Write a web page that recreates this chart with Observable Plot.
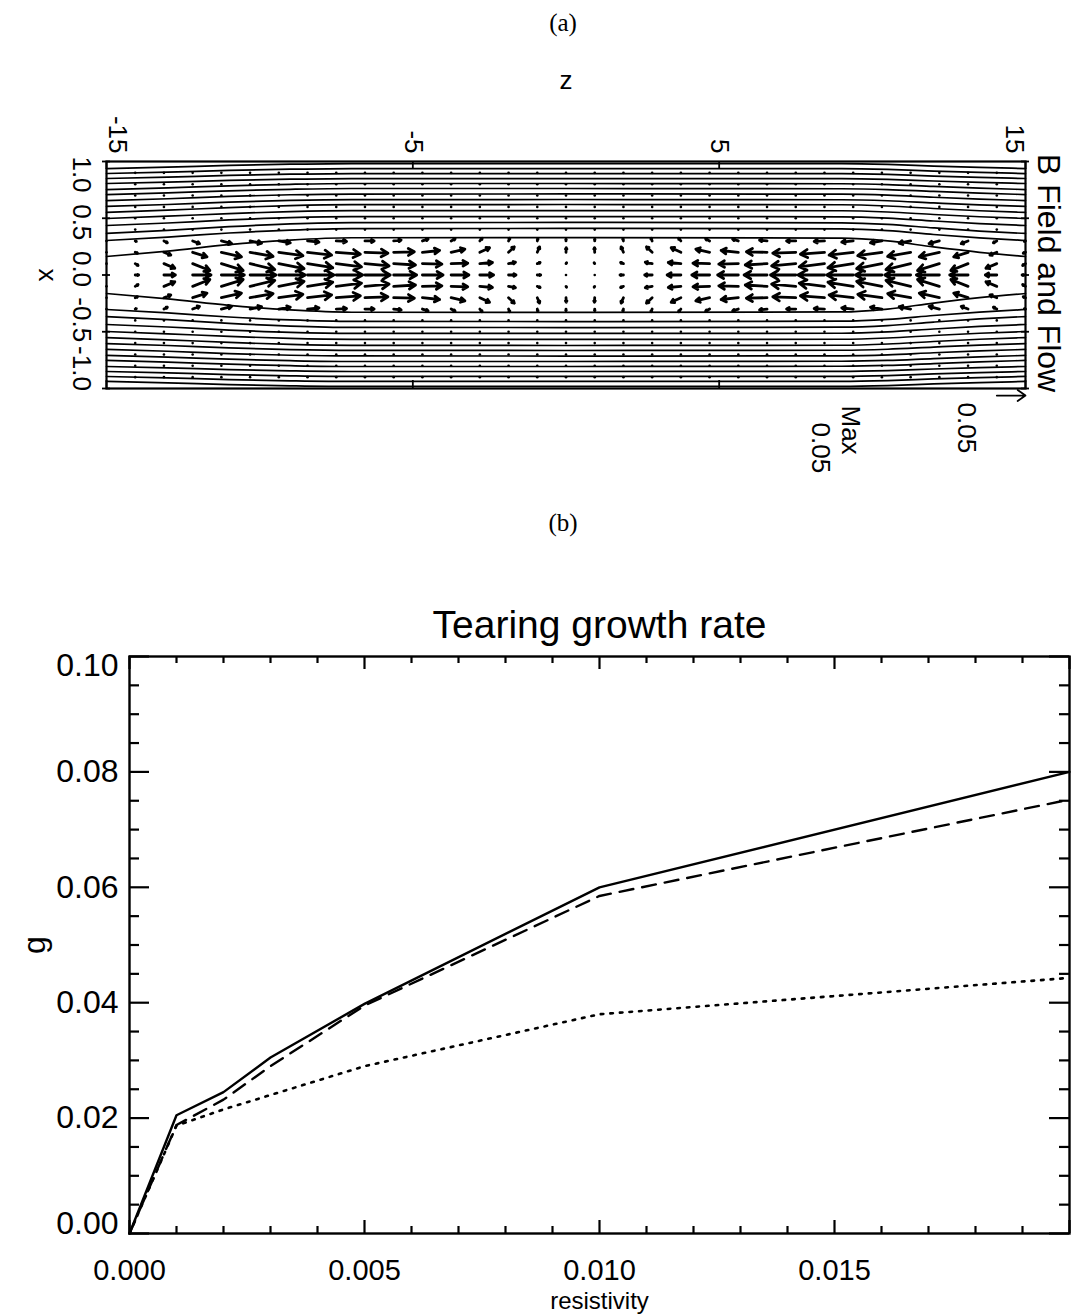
<!DOCTYPE html>
<html>
<head>
<meta charset="utf-8">
<script src="https://cdn.jsdelivr.net/npm/d3@7"></script>
<script src="https://cdn.jsdelivr.net/npm/@observablehq/plot@0.6"></script>
<style>
  body { margin: 0; background: #fff; }
  #fig { position: relative; width: 1071px; height: 1315px; background: #fff; overflow: hidden;
         font-family: "Liberation Sans", Arial, Helvetica, sans-serif; }
  .tag { position: absolute; z-index: 2; transform: translateX(-50%); font-family: "Liberation Serif", "DejaVu Serif", serif;
         font-size: 25px; line-height: 1; color: #000; }
  .panel { position: absolute; left: 0; z-index: 1; }
</style>
</head>
<body>
<div id="fig">
  <div class="panel" id="panelA" style="top:0px;"></div>
  <div class="panel" id="panelB" style="top:560px;"></div>
  <div class="tag" style="left:563px; top:10px;">(a)</div>
  <div class="tag" style="left:563px; top:510px;">(b)</div>
</div>
<script>
// ===================== Panel (a): B field lines and flow =====================
const zTicks = [-15, -5, 5, 15];
const xTicks = [1, 0.5, 0, -0.5, -1];
const xTickText = ["1.0", "0.5", "0.0", "-0.5", "-1.0"];

// z stations at which each field line is sampled
const lineStations = [-15, -13, -11, -9, -7, 0, 9, 10.5, 12, 13.5, 15];
// upper-half field lines (x at each station); the lower half is the mirror image
const upperFieldLines = [
  [0.938, 0.950, 0.965, 0.976, 0.982, 0.982, 0.981, 0.974, 0.960, 0.948, 0.938],
  [0.894, 0.906, 0.921, 0.932, 0.938, 0.938, 0.937, 0.930, 0.916, 0.904, 0.894],
  [0.850, 0.862, 0.877, 0.888, 0.894, 0.894, 0.893, 0.886, 0.872, 0.860, 0.850],
  [0.806, 0.818, 0.833, 0.844, 0.850, 0.850, 0.849, 0.842, 0.828, 0.816, 0.806],
  [0.753, 0.768, 0.786, 0.799, 0.806, 0.806, 0.804, 0.797, 0.780, 0.765, 0.753],
  [0.709, 0.724, 0.742, 0.755, 0.762, 0.762, 0.760, 0.753, 0.736, 0.721, 0.709],
  [0.656, 0.672, 0.692, 0.707, 0.713, 0.714, 0.712, 0.704, 0.685, 0.669, 0.656],
  [0.604, 0.621, 0.642, 0.657, 0.664, 0.665, 0.663, 0.654, 0.635, 0.617, 0.604],
  [0.551, 0.571, 0.594, 0.612, 0.620, 0.621, 0.619, 0.608, 0.586, 0.566, 0.551],
  [0.498, 0.518, 0.541, 0.559, 0.567, 0.568, 0.566, 0.555, 0.533, 0.513, 0.498],
  [0.436, 0.458, 0.485, 0.505, 0.514, 0.515, 0.513, 0.501, 0.476, 0.453, 0.436],
  [0.366, 0.393, 0.426, 0.450, 0.462, 0.463, 0.460, 0.446, 0.415, 0.387, 0.366],
  [0.304, 0.334, 0.370, 0.396, 0.409, 0.410, 0.407, 0.391, 0.357, 0.327, 0.304],
  [0.163, 0.210, 0.267, 0.308, 0.328, 0.330, 0.325, 0.300, 0.247, 0.200, 0.163]
];

// flow grid: columns in z, rows in x (upper rows; lower rows mirror them)
const flowCols = [-15, -14.0625, -13.125, -12.1875, -11.25, -10.3125, -9.375, -8.4375, -7.5,
  -6.5625, -5.625, -4.6875, -3.75, -2.8125, -1.875, -0.9375, 0, 0.9375, 1.875, 2.8125, 3.75,
  4.6875, 5.625, 6.5625, 7.5, 8.4375, 9.375, 10.3125, 11.25, 12.1875, 13.125, 14.0625, 15];
const flowRows = [0.3, 0.2, 0.1, 0];
const flowVz = [
  // x = 0.3
  [0, 0.002, 0.006, 0.012, 0.018, 0.02, 0.02, 0.02, 0.018, 0.016, 0.013, 0.01, 0.007, 0.004, 0.002, 0.001, 0,
   0, -0.001, -0.002, -0.004, -0.007, -0.01, -0.013, -0.016, -0.018, -0.02, -0.02, -0.02, -0.018, -0.012, -0.006, -0.002],
  // x = 0.2
  [0, 0.004, 0.012, 0.025, 0.035, 0.04, 0.042, 0.042, 0.042, 0.04, 0.036, 0.03, 0.024, 0.017, 0.01, 0.004, 0.0005,
   -0.0005, -0.004, -0.01, -0.017, -0.024, -0.03, -0.036, -0.04, -0.042, -0.042, -0.042, -0.04, -0.035, -0.025, -0.012, -0.004],
  // x = 0.1
  [0, 0.005, 0.019, 0.03, 0.038, 0.043, 0.044, 0.044, 0.044, 0.042, 0.038, 0.034, 0.029, 0.022, 0.012, 0.005, 0.001,
   -0.001, -0.005, -0.012, -0.022, -0.029, -0.034, -0.038, -0.042, -0.044, -0.044, -0.044, -0.043, -0.038, -0.03, -0.019, -0.005],
  // x = 0
  [0, 0.006, 0.02, 0.032, 0.04, 0.045, 0.046, 0.046, 0.046, 0.044, 0.04, 0.036, 0.031, 0.024, 0.013, 0.006, 0.001,
   -0.001, -0.006, -0.013, -0.024, -0.031, -0.036, -0.04, -0.044, -0.046, -0.046, -0.046, -0.045, -0.04, -0.032, -0.02, -0.006]
];
const flowVx = [
  // x = 0.3
  [0, -0.002, -0.008, -0.012, -0.012, -0.01, -0.008, -0.005, -0.002, 0, 0.004, 0.008, 0.01, 0.012, 0.012, 0.01, 0.008,
   0.008, 0.01, 0.012, 0.012, 0.01, 0.008, 0.004, 0, -0.002, -0.005, -0.008, -0.01, -0.012, -0.012, -0.008, -0.002],
  // x = 0.2
  [0, -0.004, -0.012, -0.02, -0.02, -0.018, -0.015, -0.012, -0.008, -0.004, 0.002, 0.008, 0.014, 0.02, 0.024, 0.024, 0.02,
   0.02, 0.024, 0.024, 0.02, 0.014, 0.008, 0.002, -0.004, -0.008, -0.012, -0.015, -0.018, -0.02, -0.02, -0.012, -0.004],
  // x = 0.1
  [0, -0.008, -0.02, -0.03, -0.03, -0.026, -0.022, -0.018, -0.014, -0.01, -0.006, -0.002, 0.002, 0.005, 0.006, 0.005, 0.004,
   0.004, 0.005, 0.006, 0.005, 0.002, -0.002, -0.006, -0.01, -0.014, -0.018, -0.022, -0.026, -0.03, -0.03, -0.02, -0.008],
  // x = 0
  new Array(33).fill(0)
];
// weak flow in the outer region, drawn as points
const outerRows = [0.9, 0.8, 0.7, 0.6, 0.5, 0.4, -0.4, -0.5, -0.6, -0.7, -0.8, -0.9];
const flowMax = 0.05;               // reference vector magnitude
const legendVector = {z: 14.0625, x: -1.062, vz: 0.05, vx: 0};

// ---- derived tables ----
const fieldLinePoints = [];
upperFieldLines.forEach((xs, i) => {
  for (const s of [1, -1]) {
    lineStations.forEach((z, j) => fieldLinePoints.push({id: `${i}${s}`, z, x: s * xs[j]}));
  }
});
const dz = flowCols[1] - flowCols[0];
const dx = 0.1;
const toArrow = (z, x, vz, vx) => ({z, x, z2: z + (vz / flowMax) * dz, x2: x + (vx / flowMax) * dx});
const flowArrows = [], flowDots = [];
flowRows.forEach((x, r) => {
  flowCols.forEach((z, k) => {
    const vz = flowVz[r][k], vx = flowVx[r][k];
    const mirror = x === 0 ? [1] : [1, -1];
    for (const s of mirror) {
      if (Math.hypot(vz, vx) < 0.0015) flowDots.push({z, x: s * x});
      else flowArrows.push(toArrow(z, s * x, vz, s * vx));
    }
  });
});
outerRows.forEach(x => flowCols.slice(1, -1).forEach(z => flowDots.push({z, x})));
const legendArrow = [toArrow(legendVector.z, legendVector.x, legendVector.vz, legendVector.vx)];

const A = {w: 1071, h: 500, mt: 161, mb: 112, ml: 106, mr: 46};
const aInnerW = A.w - A.ml - A.mr, aInnerH = A.h - A.mt - A.mb;
const xLabelShift = [13, 4, -6, -12, -20];
const txt = {lineAnchor: "middle"};

const panelA = Plot.plot({
  width: A.w, height: A.h,
  marginTop: A.mt, marginBottom: A.mb, marginLeft: A.ml, marginRight: A.mr,
  x: {domain: [-15, 15], axis: null},
  y: {domain: [-1, 1], axis: null},
  style: {fontFamily: "Liberation Sans, Arial, sans-serif", fontSize: "26px", background: "transparent", color: "black", overflow: "visible"},
  marks: [
    Plot.line(fieldLinePoints, {x: "z", y: "x", z: "id", curve: "monotone-x", stroke: "black", strokeWidth: 1.7}),
    Plot.arrow(flowArrows, {x1: "z", y1: "x", x2: "z2", y2: "x2", stroke: "black", strokeWidth: 2.8, headLength: 11, headAngle: 60}),
    Plot.dot(flowDots, {x: "z", y: "x", r: 1.3, fill: "black", stroke: null}),
    Plot.frame({stroke: "black", strokeWidth: 2.2}),
    // ticks, drawn inward
    Plot.tickX(zTicks, {x: d => d, insetBottom: aInnerH - 8, strokeWidth: 1.8}),
    Plot.tickX(zTicks, {x: d => d, insetTop: aInnerH - 8, strokeWidth: 1.8}),
    Plot.tickY(xTicks, {y: d => d, insetRight: aInnerW - 8, dx: -4, strokeWidth: 1.8}),
    Plot.tickY(xTicks, {y: d => d, insetLeft: aInnerW - 8, dx: 4, strokeWidth: 1.8}),
    // z tick labels (rotated)
    Plot.text(zTicks.filter(d => d !== -15 && d !== 15), {...txt, x: d => d, text: d => String(d), frameAnchor: "top", rotate: 90, textAnchor: "end", dy: -8}),
    Plot.text([zTicks[0]], {...txt, x: d => d, text: d => String(d), frameAnchor: "top", rotate: 90, textAnchor: "end", dy: -8, dx: 11}),
    Plot.text([zTicks[zTicks.length - 1]], {...txt, x: d => d, text: d => String(d), frameAnchor: "top", rotate: 90, textAnchor: "end", dy: -8, dx: -11}),
    // x tick labels (rotated)
    ...xTicks.map((v, i) => Plot.text([v], {...txt, y: d => d, text: () => xTickText[i], frameAnchor: "left", textAnchor: "middle", rotate: 90, dx: -25, dy: xLabelShift[i]})),
    // axis titles
    Plot.text(["x"], {...txt, frameAnchor: "left", textAnchor: "middle", rotate: 90, dx: -59, text: d => d}),
    Plot.text(["z"], {...txt, frameAnchor: "top", dy: -81, text: d => d}),
    Plot.text(["B Field and Flow"], {...txt, frameAnchor: "right", textAnchor: "middle", rotate: 90, dx: 23, dy: -2, fontSize: 32, text: d => d}),
    // flow legend
    Plot.arrow(legendArrow, {x1: "z", y1: "x", x2: "z2", y2: "x2", stroke: "black", strokeWidth: 1.8, headLength: 12, headAngle: 70, clip: false}),
    Plot.text(["Max"], {...txt, frameAnchor: "bottom-right", rotate: 90, textAnchor: "start", dx: -175, dy: 17, text: d => d}),
    Plot.text([String(flowMax)], {...txt, frameAnchor: "bottom-right", rotate: 90, textAnchor: "start", dx: -205, dy: 34, text: d => d}),
    Plot.text([String(flowMax)], {...txt, frameAnchor: "bottom-right", rotate: 90, textAnchor: "start", dx: -59, dy: 14, text: d => d})
  ]
});
document.getElementById("panelA").append(panelA);

// ===================== Panel (b): tearing growth rate =====================
const eta = [0, 0.001, 0.002, 0.003, 0.005, 0.010, 0.020];
const growthSolid  = [0, 0.0205, 0.0245, 0.0305, 0.0398, 0.0600, 0.0800];
const growthDashed = [0, 0.0188, 0.0232, 0.0290, 0.0395, 0.0585, 0.0752];
const growthDotted = [0, 0.0187, 0.0215, 0.0240, 0.0290, 0.0380, 0.0443];
const etaMajor = [0, 0.005, 0.010, 0.015, 0.020];
const etaMinor = [0.001, 0.002, 0.003, 0.004, 0.006, 0.007, 0.008, 0.009, 0.011, 0.012, 0.013, 0.014, 0.016, 0.017, 0.018, 0.019];
const etaLabels = ["0.000", "0.005", "0.010", "0.015"];
const gammaMajor = [0, 0.02, 0.04, 0.06, 0.08, 0.10];
const gammaMinor = [0.005, 0.01, 0.015, 0.025, 0.03, 0.035, 0.045, 0.05, 0.055, 0.065, 0.07, 0.075, 0.085, 0.09, 0.095];
const gammaLabels = ["0.00", "0.02", "0.04", "0.06", "0.08", "0.10"];

const series = (ys) => eta.map((e, i) => ({eta: e, g: ys[i]}));

const B = {w: 1071, h: 755, mt: 96, mb: 82, ml: 129, mr: 2};
const bInnerW = B.w - B.ml - B.mr, bInnerH = B.h - B.mt - B.mb;

const panelB = Plot.plot({
  width: B.w, height: B.h,
  marginTop: B.mt, marginBottom: B.mb, marginLeft: B.ml, marginRight: B.mr,
  x: {domain: [0, 0.02], axis: null},
  y: {domain: [0, 0.1], axis: null},
  style: {fontFamily: "Liberation Sans, Arial, sans-serif", fontSize: "32px", background: "transparent", color: "black", overflow: "visible"},
  marks: [
    Plot.line(series(growthSolid), {x: "eta", y: "g", stroke: "black", strokeWidth: 2.4}),
    Plot.line(series(growthDashed), {x: "eta", y: "g", stroke: "black", strokeWidth: 2.4, strokeDasharray: "14,9"}),
    Plot.line(series(growthDotted), {x: "eta", y: "g", stroke: "black", strokeWidth: 2.6, strokeDasharray: "2.6,7"}),
    Plot.frame({stroke: "black", strokeWidth: 2.4}),
    // x ticks (bottom and top, inward)
    Plot.tickX(etaMajor, {x: d => d, insetTop: bInnerH - 13, strokeWidth: 2.2}),
    Plot.tickX(etaMajor, {x: d => d, insetBottom: bInnerH - 13, strokeWidth: 2.2}),
    Plot.tickX(etaMinor, {x: d => d, insetTop: bInnerH - 7, strokeWidth: 2.2}),
    Plot.tickX(etaMinor, {x: d => d, insetBottom: bInnerH - 7, strokeWidth: 2.2}),
    // y ticks (left and right, inward)
    Plot.tickY(gammaMajor, {y: d => d, insetRight: bInnerW - 20, strokeWidth: 2.2}),
    Plot.tickY(gammaMajor, {y: d => d, insetLeft: bInnerW - 20, strokeWidth: 2.2}),
    Plot.tickY(gammaMinor, {y: d => d, insetRight: bInnerW - 10, strokeWidth: 2.2}),
    Plot.tickY(gammaMinor, {y: d => d, insetLeft: bInnerW - 10, strokeWidth: 2.2}),
    // tick labels
    Plot.text(etaMajor.slice(0, etaLabels.length), {...txt, x: d => d, text: (d, i) => etaLabels[i], frameAnchor: "bottom", dy: 37, fontSize: 29}),
    Plot.text(gammaMajor.slice(1, -1), {...txt, y: d => d, text: (d, i) => gammaLabels[i + 1], frameAnchor: "left", textAnchor: "end", dx: -11}),
    Plot.text([gammaMajor[0]], {...txt, y: d => d, text: () => gammaLabels[0], frameAnchor: "left", textAnchor: "end", dx: -11, dy: -10}),
    Plot.text([gammaMajor[gammaMajor.length - 1]], {...txt, y: d => d, text: () => gammaLabels[gammaLabels.length - 1], frameAnchor: "left", textAnchor: "end", dx: -11, dy: 9}),
    // titles
    Plot.text(["Tearing growth rate"], {...txt, frameAnchor: "top", dy: -31, fontSize: 39, text: d => d}),
    Plot.text(["resistivity"], {...txt, frameAnchor: "bottom", dy: 68, fontSize: 24, text: d => d}),
    Plot.text(["g"], {...txt, frameAnchor: "left", textAnchor: "middle", rotate: -90, dx: -95, fontSize: 32, text: d => d})
  ]
});
document.getElementById("panelB").append(panelB);
</script>
</body>
</html>
